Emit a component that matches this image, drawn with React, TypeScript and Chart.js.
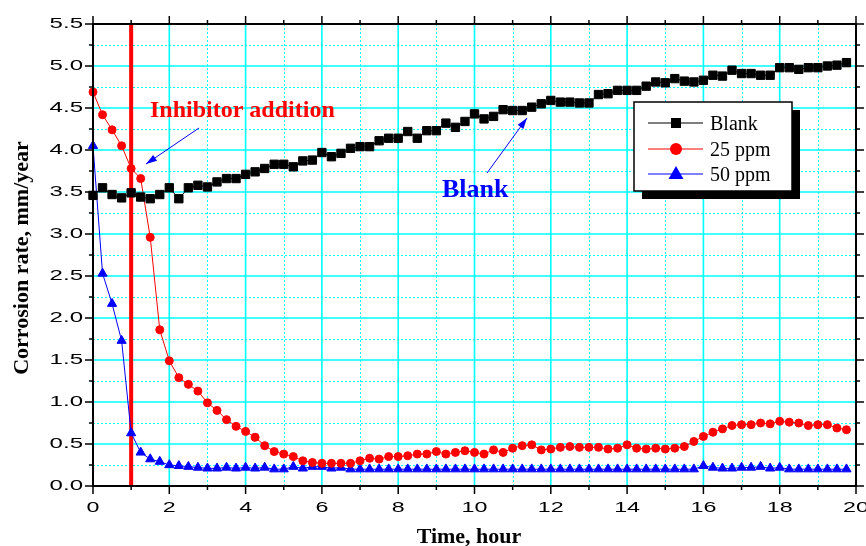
import React, { useEffect, useRef } from "react";
import { Chart, registerables } from "chart.js";

Chart.register(...registerables);

// Time, hour (sampling every 15 min)
const hours = [
  0, 0.25, 0.5, 0.75, 1, 1.25, 1.5, 1.75, 2, 2.25, 2.5, 2.75, 3, 3.25, 3.5, 3.75,
  4, 4.25, 4.5, 4.75, 5, 5.25, 5.5, 5.75, 6, 6.25, 6.5, 6.75, 7, 7.25, 7.5, 7.75,
  8, 8.25, 8.5, 8.75, 9, 9.25, 9.5, 9.75, 10, 10.25, 10.5, 10.75, 11, 11.25, 11.5, 11.75,
  12, 12.25, 12.5, 12.75, 13, 13.25, 13.5, 13.75, 14, 14.25, 14.5, 14.75, 15, 15.25, 15.5, 15.75,
  16, 16.25, 16.5, 16.75, 17, 17.25, 17.5, 17.75, 18, 18.25, 18.5, 18.75, 19, 19.25, 19.5, 19.75,
];

const blank = [
  3.46, 3.55, 3.47, 3.43, 3.49, 3.44, 3.42, 3.47, 3.55, 3.42, 3.55, 3.58, 3.56, 3.62, 3.66, 3.66,
  3.71, 3.74, 3.78, 3.83, 3.83, 3.80, 3.87, 3.88, 3.97, 3.92, 3.96, 4.02, 4.04, 4.04, 4.11, 4.14,
  4.14, 4.22, 4.14, 4.23, 4.23, 4.32, 4.27, 4.34, 4.43, 4.37, 4.40, 4.48, 4.47, 4.47, 4.51, 4.55,
  4.59, 4.57, 4.57, 4.56, 4.56, 4.66, 4.67, 4.71, 4.71, 4.71, 4.76, 4.81, 4.80, 4.85, 4.82, 4.81,
  4.83, 4.89, 4.88, 4.95, 4.91, 4.91, 4.89, 4.89, 4.98, 4.98, 4.96, 4.98, 4.98, 5.00, 5.01, 5.04,
];

const ppm25 = [
  4.69, 4.42, 4.24, 4.05, 3.78, 3.66, 2.96, 1.86, 1.49, 1.29, 1.21, 1.13, 0.99, 0.90, 0.79, 0.71,
  0.65, 0.58, 0.48, 0.41, 0.38, 0.35, 0.30, 0.28, 0.27, 0.27, 0.27, 0.27, 0.30, 0.33, 0.32, 0.35,
  0.35, 0.36, 0.38, 0.38, 0.41, 0.38, 0.40, 0.42, 0.40, 0.38, 0.43, 0.40, 0.45, 0.48, 0.49, 0.43,
  0.44, 0.46, 0.47, 0.46, 0.46, 0.46, 0.44, 0.45, 0.49, 0.45, 0.44, 0.45, 0.44, 0.45, 0.47, 0.53,
  0.59, 0.64, 0.68, 0.72, 0.73, 0.73, 0.75, 0.74, 0.77, 0.76, 0.75, 0.72, 0.73, 0.73, 0.69, 0.67,
];

const ppm50 = [
  4.05, 2.53, 2.17, 1.73, 0.63, 0.40, 0.32, 0.29, 0.25, 0.24, 0.23, 0.22, 0.21, 0.21, 0.22, 0.21,
  0.22, 0.21, 0.22, 0.20, 0.20, 0.23, 0.21, 0.23, 0.23, 0.21, 0.22, 0.20, 0.20, 0.20, 0.20, 0.20,
  0.20, 0.20, 0.20, 0.20, 0.20, 0.20, 0.20, 0.20, 0.20, 0.20, 0.20, 0.20, 0.20, 0.20, 0.20, 0.20,
  0.20, 0.20, 0.20, 0.20, 0.20, 0.20, 0.20, 0.20, 0.20, 0.20, 0.20, 0.20, 0.20, 0.20, 0.20, 0.20,
  0.24, 0.22, 0.21, 0.21, 0.22, 0.22, 0.23, 0.21, 0.22, 0.20, 0.20, 0.20, 0.20, 0.20, 0.20, 0.20,
];

const seriesNames = ["Blank", "25 ppm", "50 ppm"];
const seriesColors = ["#000000", "#FF0000", "#0000FF"];

const xMajor = [0, 2, 4, 6, 8, 10, 12, 14, 16, 18, 20];
const xMinor = [1, 3, 5, 7, 9, 11, 13, 15, 17, 19];
const yMajor = [0, 0.5, 1.0, 1.5, 2.0, 2.5, 3.0, 3.5, 4.0, 4.5, 5.0, 5.5];
const yMinor = [0.25, 0.75, 1.25, 1.75, 2.25, 2.75, 3.25, 3.75, 4.25, 4.75, 5.25];

const xTitle = "Time, hour";
const yTitle = "Corrosion rate, mm/year";
const inhibitorNote = "Inhibitor addition";
const blankNote = "Blank";
const inhibitorTime = 1;

function stretchedText(ctx: any, text: string, x: number, y: number, align: string, sx: number) {
  ctx.save();
  ctx.translate(x, y);
  ctx.scale(sx, 1);
  ctx.textAlign = align;
  ctx.fillText(text, 0, 0);
  ctx.restore();
}

function arrow(ctx: any, x1: number, y1: number, x2: number, y2: number, color: string) {
  ctx.save();
  ctx.strokeStyle = color;
  ctx.fillStyle = color;
  ctx.lineWidth = 1;
  ctx.beginPath();
  ctx.moveTo(x1, y1);
  ctx.lineTo(x2, y2);
  ctx.stroke();
  const ang = Math.atan2(y2 - y1, x2 - x1);
  const len = 11;
  const hw = 3.5;
  const bx = x2 - Math.cos(ang) * len;
  const by = y2 - Math.sin(ang) * len;
  ctx.beginPath();
  ctx.moveTo(x2, y2);
  ctx.lineTo(bx + Math.sin(ang) * hw, by - Math.cos(ang) * hw);
  ctx.lineTo(bx - Math.sin(ang) * hw, by + Math.cos(ang) * hw);
  ctx.closePath();
  ctx.fill();
  ctx.restore();
}

const decor = {
  id: "decor",
  beforeDatasetsDraw(chart: any) {
    const { ctx, chartArea: a, scales } = chart;
    const x = scales.x;
    const y = scales.y;
    ctx.save();
    ctx.strokeStyle = "#00FFFF";
    // minor dashed grid
    ctx.lineWidth = 1;
    ctx.setLineDash([2, 2]);
    for (const v of xMinor) {
      const px = Math.round(x.getPixelForValue(v)) + 0.5;
      ctx.beginPath();
      ctx.moveTo(px, a.top);
      ctx.lineTo(px, a.bottom);
      ctx.stroke();
    }
    for (const v of yMinor) {
      const py = Math.round(y.getPixelForValue(v)) + 0.5;
      ctx.beginPath();
      ctx.moveTo(a.left, py);
      ctx.lineTo(a.right, py);
      ctx.stroke();
    }
    // major solid grid
    ctx.setLineDash([]);
    ctx.lineWidth = 1.6;
    for (const v of xMajor) {
      const px = x.getPixelForValue(v);
      ctx.beginPath();
      ctx.moveTo(px, a.top);
      ctx.lineTo(px, a.bottom);
      ctx.stroke();
    }
    for (const v of yMajor) {
      const py = y.getPixelForValue(v);
      ctx.beginPath();
      ctx.moveTo(a.left, py);
      ctx.lineTo(a.right, py);
      ctx.stroke();
    }
    // inhibitor addition line
    ctx.strokeStyle = "#FF0000";
    ctx.lineWidth = 4;
    const rx = x.getPixelForValue(inhibitorTime);
    ctx.beginPath();
    ctx.moveTo(rx, a.top);
    ctx.lineTo(rx, a.bottom);
    ctx.stroke();
    ctx.restore();
  },
  afterDraw(chart: any) {
    const { ctx, chartArea: a, scales } = chart;
    const x = scales.x;
    const y = scales.y;
    ctx.save();
    // frame
    ctx.strokeStyle = "#000";
    ctx.lineWidth = 2;
    ctx.strokeRect(a.left, a.top, a.right - a.left, a.bottom - a.top);
    // ticks on all four sides, outward
    ctx.lineWidth = 1.5;
    const tick = (x1: number, y1: number, x2: number, y2: number) => {
      ctx.beginPath();
      ctx.moveTo(x1, y1);
      ctx.lineTo(x2, y2);
      ctx.stroke();
    };
    for (const v of xMajor) {
      const px = x.getPixelForValue(v);
      tick(px, a.bottom, px, a.bottom + 8);
      tick(px, a.top, px, a.top - 8);
    }
    for (const v of xMinor) {
      const px = x.getPixelForValue(v);
      tick(px, a.bottom, px, a.bottom + 4);
      tick(px, a.top, px, a.top - 4);
    }
    for (const v of yMajor) {
      const py = y.getPixelForValue(v);
      tick(a.left, py, a.left - 8, py);
      tick(a.right, py, a.right + 8, py);
    }
    for (const v of yMinor) {
      const py = y.getPixelForValue(v);
      tick(a.left, py, a.left - 4, py);
      tick(a.right, py, a.right + 4, py);
    }
    // tick labels
    ctx.fillStyle = "#000";
    ctx.font = '15.5px "Liberation Sans", Arial, sans-serif';
    ctx.textBaseline = "middle";
    for (const v of yMajor) {
      stretchedText(ctx, v.toFixed(1), a.left - 10, y.getPixelForValue(v), "right", 1.55);
    }
    for (const v of xMajor) {
      stretchedText(ctx, String(v), x.getPixelForValue(v), a.bottom + 22, "center", 1.5);
    }
    // axis titles
    ctx.font = 'bold 22px "Liberation Serif", "Times New Roman", serif';
    ctx.textBaseline = "alphabetic";
    ctx.textAlign = "center";
    ctx.fillText(xTitle, 469, 543);
    ctx.save();
    ctx.translate(28, 258);
    ctx.rotate(-Math.PI / 2);
    ctx.fillText(yTitle, 0, 0);
    ctx.restore();
    // annotations
    ctx.textAlign = "left";
    ctx.fillStyle = "#FF0000";
    ctx.font = 'bold 24px "Liberation Serif", "Times New Roman", serif';
    ctx.fillText(inhibitorNote, 150, 117);
    ctx.fillStyle = "#0000FF";
    ctx.font = 'bold 26px "Liberation Serif", "Times New Roman", serif';
    ctx.fillText(blankNote, 442, 197);
    arrow(ctx, 199, 128, 146, 164, "#0000FF");
    arrow(ctx, 487, 173, 527, 118, "#0000FF");
    // legend
    const lx = 634, ly = 102, lw = 158, lh = 89;
    ctx.fillStyle = "#000";
    ctx.fillRect(lx + 8, ly + 8, lw, lh);
    ctx.fillStyle = "#fff";
    ctx.fillRect(lx, ly, lw, lh);
    ctx.strokeStyle = "#000";
    ctx.lineWidth = 1.5;
    ctx.strokeRect(lx, ly, lw, lh);
    const rows = [123, 149, 174];
    ctx.font = '20px "Liberation Serif", "Times New Roman", serif';
    seriesNames.forEach((name, i) => {
      const ry = rows[i];
      const c = seriesColors[i];
      ctx.strokeStyle = c;
      ctx.fillStyle = c;
      ctx.lineWidth = 1;
      ctx.beginPath();
      ctx.moveTo(648, ry);
      ctx.lineTo(703, ry);
      ctx.stroke();
      const mx = 676;
      ctx.beginPath();
      if (i === 0) {
        ctx.rect(mx - 5, ry - 5, 10, 10);
      } else if (i === 1) {
        ctx.arc(mx, ry, 6, 0, Math.PI * 2);
      } else {
        ctx.moveTo(mx, ry - 8);
        ctx.lineTo(mx + 7.5, ry + 5);
        ctx.lineTo(mx - 7.5, ry + 5);
        ctx.closePath();
      }
      ctx.fill();
      ctx.fillStyle = "#000";
      ctx.textAlign = "left";
      ctx.fillText(name, 710, ry + 6.5);
    });
    ctx.restore();
  },
};

export default function App() {
  const ref = useRef<HTMLCanvasElement | null>(null);
  useEffect(() => {
    if (!ref.current) return;
    const mk = (vals: number[]) => hours.map((h, i) => ({ x: h, y: vals[i] }));
    const chart = new Chart(ref.current, {
      type: "line",
      data: {
        datasets: [
          {
            label: seriesNames[0],
            data: mk(blank),
            borderColor: seriesColors[0],
            backgroundColor: seriesColors[0],
            borderWidth: 1,
            pointStyle: "rect",
            pointRadius: 5.9,
            pointBorderWidth: 1,
            tension: 0,
            clip: false,
          },
          {
            label: seriesNames[1],
            data: mk(ppm25),
            borderColor: seriesColors[1],
            backgroundColor: seriesColors[1],
            borderWidth: 1,
            pointStyle: "circle",
            pointRadius: 4,
            pointBorderWidth: 1,
            tension: 0,
            clip: false,
          },
          {
            label: seriesNames[2],
            data: mk(ppm50),
            borderColor: seriesColors[2],
            backgroundColor: seriesColors[2],
            borderWidth: 1,
            pointStyle: "triangle",
            pointRadius: 5.3,
            pointBorderWidth: 1,
            tension: 0,
            clip: false,
          },
        ],
      } as any,
      options: {
        animation: false,
        responsive: true,
        maintainAspectRatio: false,
        layout: { padding: { left: 0, right: 10, top: 24, bottom: 0 } },
        plugins: { legend: { display: false }, tooltip: { enabled: false } },
        scales: {
          x: {
            type: "linear",
            min: 0,
            max: 20,
            grid: { display: false },
            border: { display: false },
            ticks: { display: false },
            afterFit: (s: any) => {
              s.height = 60;
            },
          },
          y: {
            type: "linear",
            min: 0,
            max: 5.5,
            grid: { display: false },
            border: { display: false },
            ticks: { display: false },
            afterFit: (s: any) => {
              s.width = 93;
            },
          },
        },
      } as any,
      plugins: [decor],
    });
    return () => chart.destroy();
  }, []);
  return (
    <div style={{ position: "absolute", left: 0, top: 0, width: 866, height: 546, background: "#fff" }}>
      <canvas ref={ref} />
    </div>
  );
}
